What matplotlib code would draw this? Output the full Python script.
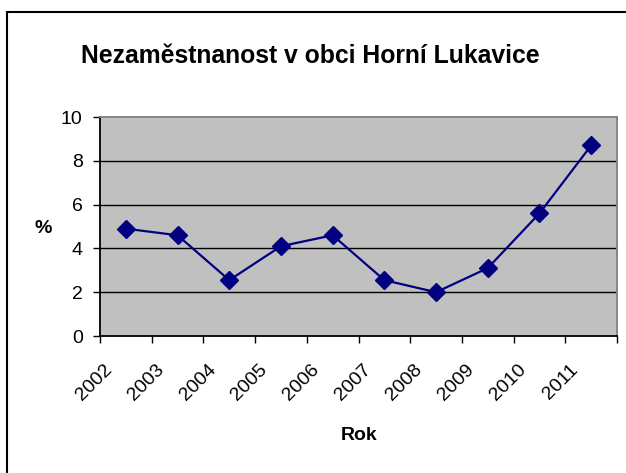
import matplotlib
matplotlib.use("Agg")
import matplotlib.pyplot as plt
from matplotlib.patches import Rectangle
import matplotlib.transforms as mtransforms
import numpy as np

years = ["2002", "2003", "2004", "2005", "2006", "2007", "2008", "2009", "2010", "2011"]
values = [4.9, 4.6, 2.55, 4.1, 4.6, 2.55, 2.0, 3.1, 5.6, 8.7]

plt.rcParams['font.family'] = ['Liberation Sans', 'DejaVu Sans']

W, H = 626, 473
fig = plt.figure(figsize=(W / 100, H / 100), dpi=100)
fig.patch.set_facecolor('white')

left, right, top, bottom = 100, 617, 117, 336
ax = fig.add_axes([left / W, 1 - bottom / H, (right - left) / W, (bottom - top) / H])
ax.set_facecolor('#C0C0C0')

x = np.arange(len(years))
ax.plot(x, values, color='#000080', lw=1.6, marker='D', markersize=9,
        markerfacecolor='#000080', markeredgecolor='#000080', zorder=3)

ax.set_xlim(-0.5, len(years) - 0.5)
ax.set_ylim(0, 10)
ax.set_yticks([0, 2, 4, 6, 8, 10])
ax.set_yticklabels(["0", "2", "4", "6", "8", "10"], fontsize=14)
for yv in [2, 4, 6, 8]:
    ax.axhline(yv, color='black', lw=1.0, zorder=1)

# category boundary ticks, labels drawn separately (rotated)
ax.set_xticks(np.arange(-0.5, len(years)))
ax.set_xticklabels([])
ax.tick_params(axis='x', length=5, width=1, color='black', direction='out')
ax.tick_params(axis='y', length=5, width=1, color='black', direction='out', pad=7.5)

lbl_trans = mtransforms.blended_transform_factory(ax.transData, ax.transAxes) + \
    mtransforms.ScaledTranslation(-22 / 100, -25 / 100, fig.dpi_scale_trans)
for i, yr in enumerate(years):
    ax.text(i, 0, yr, transform=lbl_trans, fontsize=14, rotation=45,
            ha='right', va='top', rotation_mode='anchor', clip_on=False)

for s in ['left', 'bottom']:
    ax.spines[s].set_color('black')
    ax.spines[s].set_linewidth(1.3)
for s in ['top', 'right']:
    ax.spines[s].set_color('#808080')
    ax.spines[s].set_linewidth(1.3)

fig.text(310 / W, 1 - 56 / H, "Nezaměstnanost v obci Horní Lukavice",
         fontsize=17.8, fontweight='bold', ha='center', va='center')
fig.text(43 / W, 1 - 228 / H, "%", fontsize=14, fontweight='bold', ha='center', va='center')
fig.text(359 / W, 1 - 435 / H, "Rok", fontsize=14, fontweight='bold', ha='center', va='center')

border = Rectangle((6.5 / W, -0.1), 1.2, 1 - 12.5 / H + 0.1, transform=fig.transFigure,
                   fill=False, edgecolor='black', lw=1.5, clip_on=False)
fig.patches.append(border)

fig.savefig("out.png", dpi=100)
